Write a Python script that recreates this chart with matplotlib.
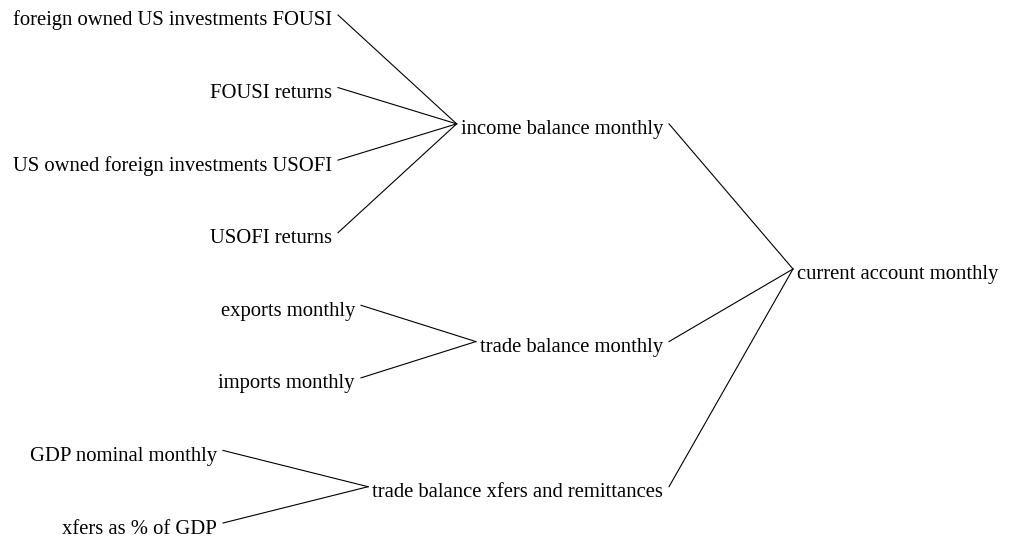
import matplotlib
matplotlib.use("Agg")
import matplotlib.pyplot as plt

# tree: root <- branches <- leaves
root = "current account monthly"
branches = ["income balance monthly",
            "trade balance monthly",
            "trade balance xfers and remittances"]
leaves_income = ["foreign owned US investments FOUSI", "FOUSI returns",
                 "US owned foreign investments USOFI", "USOFI returns"]
leaves_trade = ["exports monthly", "imports monthly"]
leaves_xfers = ["GDP nominal monthly", "xfers as % of GDP"]
leaf_groups = [leaves_income, leaves_trade, leaves_xfers]

# layout (pixels, figure is 1010 x 538)
FONT = dict(family="Liberation Serif", fontsize=14.9, color="black")
ROOT_LEFT = 797
BRANCH_RIGHT = 663
LEAF_RIGHT = [332, 355, 217]
TOP, BOTTOM = 15, 523
BASE_OFF = 10.5     # baseline below the line anchor
LINE_GAP_R = 6      # gap after text end
LINE_GAP_L = 4      # gap before text start

fig = plt.figure(figsize=(10.1, 5.38), dpi=100)
ax = fig.add_axes([0, 0, 1, 1])
ax.set_xlim(0, 1010)
ax.set_ylim(538, 0)
ax.axis("off")

n_leaves = sum(len(g) for g in leaf_groups)
step = (BOTTOM - TOP) / (n_leaves - 1)
leaf_y = [TOP + i * step for i in range(n_leaves)]
root_y = sum(leaf_y) / n_leaves

fig.canvas.draw()
renderer = fig.canvas.get_renderer()

def width_of(t):
    bb = t.get_window_extent(renderer)
    return bb.width

ax.text(ROOT_LEFT, root_y + BASE_OFF, root, ha="left", va="baseline", **FONT)

k = 0
for b, group, lr in zip(branches, leaf_groups, LEAF_RIGHT):
    ys = leaf_y[k:k + len(group)]
    k += len(group)
    by = sum(ys) / len(ys)
    bt = ax.text(BRANCH_RIGHT, by + BASE_OFF, b, ha="right", va="baseline", **FONT)
    ax.plot([BRANCH_RIGHT + LINE_GAP_R, ROOT_LEFT - LINE_GAP_L], [by, root_y],
            color="black", lw=0.8)
    b_left = BRANCH_RIGHT - width_of(bt)
    for lab, y in zip(group, ys):
        ax.text(lr, y + BASE_OFF, lab, ha="right", va="baseline", **FONT)
        ax.plot([lr + LINE_GAP_R, b_left - LINE_GAP_L], [y, by],
                color="black", lw=0.8)

fig.savefig("out.png", dpi=100, facecolor="white")
